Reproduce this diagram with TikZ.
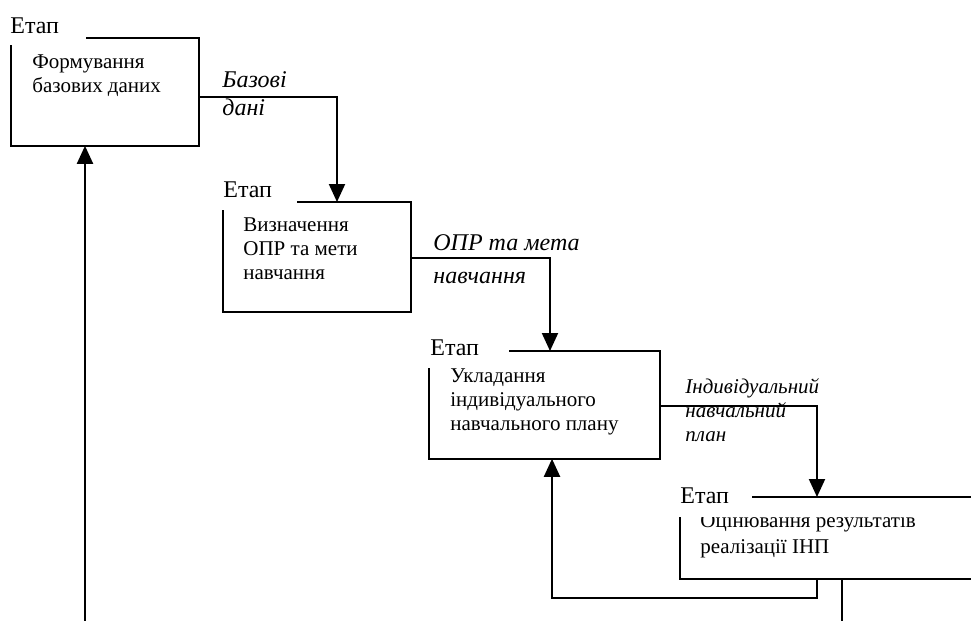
\documentclass[tikz,border=0pt]{standalone}
\usepackage{fontspec}
\setmainfont{Liberation Serif}
\usetikzlibrary{arrows.meta,calc}

\tikzset{
  frame/.style={line width=1pt},
  flow/.style={line width=1pt,-{Triangle[length=9pt,width=8pt]}},
  stage/.style={inner sep=0pt,anchor=north west},
  etap/.style={anchor=base west,inner sep=0pt,font=\fontsize{12}{14}\selectfont},
  body/.style={anchor=base west,inner sep=0pt,align=left,font=\fontsize{10.5}{12}\selectfont},
  data/.style={anchor=base west,inner sep=0pt,align=left,font=\fontsize{12}{14}\selectfont\itshape},
}

% open frame of a stage: the top left corner is left out for the word "Етап"
\newcommand{\etapframe}[3]{%
  \draw[frame] ($(#1.north west)+(#2,0)$) -- (#1.north east) -- (#1.south east)
    -- (#1.south west) -- ($(#1.north west)+(0,#3)$);}

\begin{document}
\begin{tikzpicture}[x=0.5pt,y=-0.5pt]
  \useasboundingbox (0,0) rectangle (971,621);
  \clip (0,0) rectangle (971,621);

  % stages
  \node[stage,minimum width=93.5pt,minimum height=53.5pt] (form) at (11,38) {};
  \node[stage,minimum width=93.5pt,minimum height=54.5pt] (goal) at (223,202) {};
  \node[stage,minimum width=115pt,minimum height=53.5pt] (plan) at (429,351) {};
  \node[stage,minimum width=160pt,minimum height=40.5pt] (eval) at (680,497) {};

  \etapframe{form}{75}{7}
  \etapframe{goal}{74}{8}
  \etapframe{plan}{80}{17}
  \etapframe{eval}{72}{20}

  \node[etap] (form-etap) at (10,33) {Етап};
  \node[etap] (goal-etap) at (223,197) {Етап};
  \node[etap] (plan-etap) at (430,355) {Етап};
  \node[etap] (eval-etap) at (680,503) {Етап};

  % base of a text block = baseline of its last line
  \node[body] (form-text) at (32,92) {Формування\\базових даних};
  \node[body] (goal-text) at (243,279) {Визначення\\ОПР та мети\\навчання};
  \node[body] (plan-text) at (450,430) {Укладання\\індивідуального\\навчального плану};
  \begin{scope}
    \clip ($(eval.north west)+(0,20)$) rectangle ++(300,100);
    \node[body] (eval-text) at (700,553) {Оцінювання результатів\\[1pt]реалізації ІНП};
  \end{scope}

  % data passed on
  \node[data] (form-data) at (222,115) {Базові\\дані};
  \node[data] (goal-data) at (433,283) {ОПР та мета\\[2.5pt]навчання};
  \node[data,font=\fontsize{10.5}{12}\selectfont\itshape] (plan-data) at (685,441) {Індивідуальний\\навчальний\\план};

  \coordinate (loop-in) at (85,621);
  \coordinate (loop-out) at (842,621);

  \draw[flow] ($(form.north east)+(0,59)$) -| ($(goal.north west)+(114,0)$);
  \draw[flow] ($(goal.north east)+(0,56)$) -| ($(plan.north west)+(121,0)$);
  \draw[flow] ($(plan.north east)+(0,55)$) -| ($(eval.north west)+(137,0)$);
  \draw[flow] ($(eval.south west)+(137,0)$) -- ++(0,19) -| ($(plan.south west)+(123,0)$);
  \draw[frame] ($(eval.south west)+(162,0)$) -- (loop-out);
  \draw[flow] (loop-in) -- ($(form.south west)+(74,0)$);
\end{tikzpicture}
\end{document}
